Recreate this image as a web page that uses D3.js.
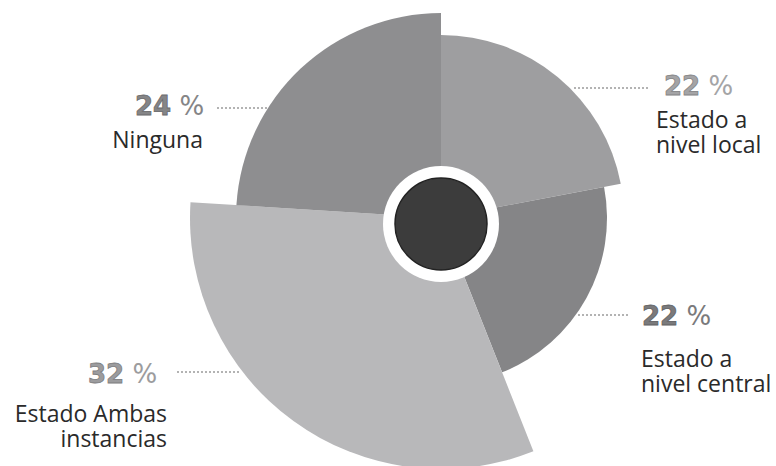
<!DOCTYPE html>
<html>
<head>
<meta charset="utf-8">
<script src="https://cdn.jsdelivr.net/npm/d3@7"></script>
<style>
  html, body { margin: 0; padding: 0; background: #ffffff; }
  svg { display: block; }
</style>
</head>
<body>
<svg id="chart" width="776" height="466"></svg>
<script>
// Categories, clockwise from 12 o'clock
const categories = ["Estado a nivel local", "Estado a nivel central", "Estado Ambas instancias", "Ninguna"];
const values = [22, 22, 32, 24];
const valueLabels = ["22", "22", "32", "24"];
const labelLines = [["Estado a", "nivel local"], ["Estado a", "nivel central"], ["Estado Ambas", "instancias"], ["Ninguna"]];

const svg = d3.select("#chart");
const cx = 441, cy = 218;

// Each wedge has its own reach
const radius = d3.scaleOrdinal().domain(categories).range([183, 166, 251, 205]);
const fill = d3.scaleOrdinal().domain(categories).range(["#9e9ea0", "#858587", "#b8b8ba", "#8e8e90"]);
const ink = d3.scaleOrdinal().domain(categories).range(["#a4a4a6", "#7a7a7c", "#9c9c9e", "#858587"]);

const pie = d3.pie().sort(null).value(d => d.value).startAngle(0).endAngle(2 * Math.PI);
const data = categories.map((c, i) => ({ cat: c, value: values[i], label: valueLabels[i], lines: labelLines[i] }));
const arcs = pie(data);

const arc = d3.arc().innerRadius(0).outerRadius(d => radius(d.data.cat));

const g = svg.append("g").attr("transform", `translate(${cx},${cy})`);
g.selectAll("path.slice")
  .data(arcs)
  .join("path")
  .attr("class", "slice")
  .attr("d", arc)
  .attr("fill", d => fill(d.data.cat));

// Hub
const hub = svg.append("g").attr("transform", `translate(${cx},${cy + 6})`);
hub.append("circle").attr("r", 58).attr("fill", "#ffffff");
hub.append("circle").attr("r", 46).attr("fill", "#3c3c3c").attr("stroke", "#222222").attr("stroke-width", 1.5);

// Label layout per category: value text anchor, leader line, name lines
const layout = {
  "Ninguna": { vx: 135, vy: 115, anchor: "start", lx1: 217, lx2: 268, ly: 108, tx: 203, ty: 148, tanchor: "end" },
  "Estado a nivel local": { vx: 664, vy: 95, anchor: "start", lx1: 574, lx2: 650, ly: 88, tx: 656, ty: 128, tanchor: "start" },
  "Estado a nivel central": { vx: 642, vy: 325, anchor: "start", lx1: 578, lx2: 628, ly: 315, tx: 641, ty: 367, tanchor: "start" },
  "Estado Ambas instancias": { vx: 88, vy: 383, anchor: "start", lx1: 177, lx2: 240, ly: 372, tx: 167, ty: 422, tanchor: "end" }
};

const labels = svg.append("g");
arcs.forEach(a => {
  const L = layout[a.data.cat];
  labels.append("line")
    .attr("x1", L.lx1).attr("x2", L.lx2).attr("y1", L.ly).attr("y2", L.ly)
    .attr("stroke", "#9a9a9a").attr("stroke-width", 1.6).attr("stroke-dasharray", "2,2");

  const vt = labels.append("text")
    .attr("x", L.vx).attr("y", L.vy)
    .attr("text-anchor", L.anchor)
    .attr("fill", ink(a.data.cat))
    .style("font-family", "'DejaVu Sans', sans-serif")
    .style("font-size", "26px");
  vt.append("tspan").style("font-weight", "bold")
    .attr("stroke", d3.color(ink(a.data.cat)).darker(0.6)).attr("stroke-width", 0.8)
    .text(a.data.label);
  vt.append("tspan").text(" %");

  const nt = labels.append("text")
    .attr("x", L.tx).attr("y", L.ty)
    .attr("text-anchor", L.tanchor)
    .attr("fill", "#2a2a2a")
    .style("font-family", "'Open Sans', sans-serif")
    .style("font-size", "23px");
  a.data.lines.forEach((line, i) => {
    nt.append("tspan").attr("x", L.tx).attr("dy", i === 0 ? 0 : 25).text(line);
  });
});
</script>
</body>
</html>
